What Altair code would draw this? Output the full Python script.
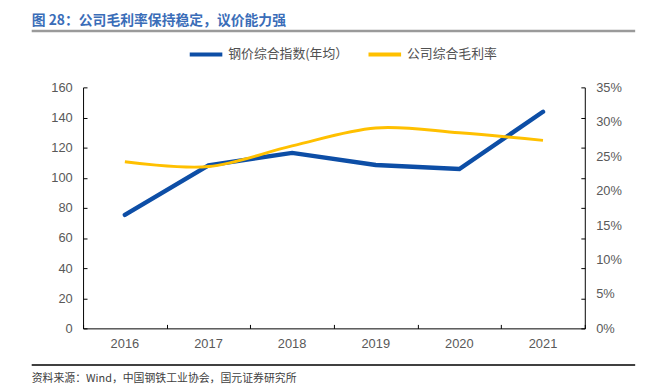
import altair as alt
import pandas as pd

years = ["2016", "2017", "2018", "2019", "2020", "2021"]
steel_index = [75.4, 108.2, 116.5, 108.5, 105.8, 143.8]
gross_margin = [0.242, 0.235, 0.265, 0.291, 0.284, 0.273]
series_names = ["钢价综合指数(年均）", "公司综合毛利率"]
series_colors = ["#0D4EA6", "#FFC000"]
title_text = "图 28：公司毛利率保持稳定，议价能力强"
source_text = "资料来源：Wind，中国钢铁工业协会，国元证券研究所"

W, H = 508, 244
CJK = "Noto Sans CJK SC"
LAT = "Liberation Sans"

df_steel = pd.DataFrame({"year": years, "value": steel_index, "series": series_names[0]})
df_margin = pd.DataFrame({"year": years, "value": gross_margin, "series": series_names[1]})

xscale = alt.Scale(type="band", domain=years, paddingInner=0, paddingOuter=0)
color = alt.Color(
    "series:N",
    scale=alt.Scale(domain=series_names, range=series_colors),
    legend=alt.Legend(
        title=None, orient="none", legendX=106, legendY=-52, direction="horizontal",
        symbolType="stroke", symbolSize=1089, symbolStrokeWidth=4,
        labelFont=CJK, labelFontSize=13, labelColor="#505050", labelOffset=4,
        columnPadding=12, padding=0,
    ),
)

x_main = alt.X("year:O", scale=xscale, title=None,
               axis=alt.Axis(orient="bottom", labelAngle=0, ticks=False, domain=True,
                             domainColor="#000000", domainWidth=1, labelFont=LAT,
                             labelFontSize=13, labelColor="#595959", labelPadding=9))
x_none = alt.X("year:O", scale=xscale, title=None, axis=None)
x_ticks = alt.X("year:O", scale=xscale, title=None,
                axis=alt.Axis(orient="top", offset=-H, labels=False, domain=False, ticks=True,
                              tickBand="extent", tickSize=4, tickColor="#000000"))

steel = alt.Chart(df_steel).mark_line(strokeWidth=4.5, strokeCap="round").encode(
    x=x_main,
    y=alt.Y("value:Q", title=None, scale=alt.Scale(domain=[0, 160]),
            axis=alt.Axis(orient="left", values=list(range(0, 161, 20)), ticks=False,
                          domainColor="#000000", domainWidth=1, grid=False,
                          labelFont=LAT, labelFontSize=13, labelColor="#595959", labelPadding=11)),
    color=color,
)

margin = alt.Chart(df_margin).mark_line(strokeWidth=3, interpolate="cardinal").encode(
    x=x_none,
    y=alt.Y("value:Q", title=None, scale=alt.Scale(domain=[0, 0.35]),
            axis=alt.Axis(orient="right", values=[i / 100 for i in range(0, 36, 5)], format=".0%",
                          ticks=False, domainColor="#000000", domainWidth=1, grid=False,
                          labelFont=LAT, labelFontSize=13, labelColor="#595959", labelPadding=11)),
    color=color,
)

left_ticks = alt.Chart(df_steel).mark_line(opacity=0).encode(
    x=x_ticks,
    y=alt.Y("value:Q", title=None, scale=alt.Scale(domain=[0, 160]),
            axis=alt.Axis(orient="right", offset=-W, values=list(range(0, 161, 20)), labels=False,
                          domain=False, ticks=True, tickSize=4, tickColor="#000000", grid=False)),
)

right_ticks = alt.Chart(df_steel).mark_line(opacity=0).encode(
    x=x_none,
    y=alt.Y("value:Q", title=None, scale=alt.Scale(domain=[0, 160]),
            axis=alt.Axis(orient="left", offset=-W, values=list(range(0, 161, 20)), labels=False,
                          domain=False, ticks=True, tickSize=4, tickColor="#000000", grid=False)),
)

deco_df = pd.DataFrame({"t": [title_text], "s": [source_text]})
title = alt.Chart(deco_df).mark_text(align="left", baseline="middle", font=CJK, fontSize=14,
                                     fontWeight="bold", color="#3A6DB8").encode(
    text="t:N", x=alt.value(-52), y=alt.value(-67))
source = alt.Chart(deco_df).mark_text(align="left", baseline="middle", font=CJK, fontSize=11,
                                      color="#404040").encode(
    text="s:N", x=alt.value(-52), y=alt.value(295))
title_rule = alt.Chart(deco_df).mark_rule(color="#9A9A9A", strokeWidth=2.5).encode(
    x=alt.value(-52), x2=alt.value(559), y=alt.value(-57))
source_rule = alt.Chart(deco_df).mark_rule(color="#000000", strokeWidth=1.5).encode(
    x=alt.value(-52), x2=alt.value(559), y=alt.value(281))

chart = alt.layer(steel, margin, left_ticks, right_ticks, title, source, title_rule, source_rule).resolve_scale(
    y="independent"
).resolve_axis(x="independent").properties(
    width=W, height=H,
    autosize=alt.AutoSizeParams(type="none"),
    padding={"left": 76, "top": 78, "right": 65, "bottom": 57},
).configure_view(stroke=None).configure_axis(grid=False)

chart.save("out.html", embed_options={"renderer": "svg", "actions": False})
